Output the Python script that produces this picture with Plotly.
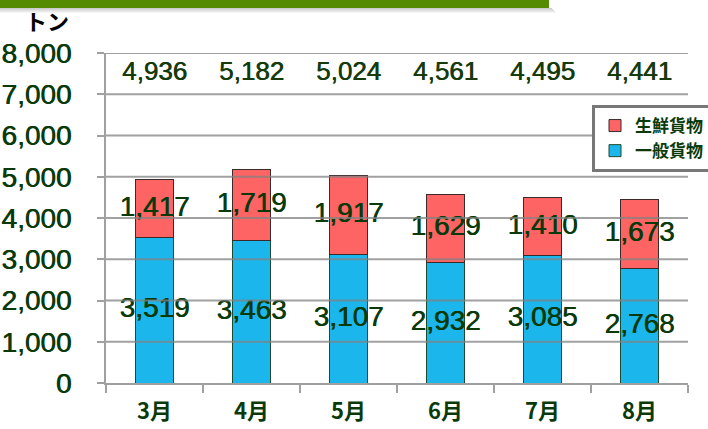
import plotly.graph_objects as go

months = ["3月", "4月", "5月", "6月", "7月", "8月"]
general = [3519, 3463, 3107, 2932, 3085, 2768]   # 一般貨物
fresh = [1417, 1719, 1917, 1629, 1410, 1673]     # 生鮮貨物
totals = [g + f for g, f in zip(general, fresh)]
y_ticks = [0, 1000, 2000, 3000, 4000, 5000, 6000, 7000, 8000]

W, H = 708, 429
L, R, T, B = 106, 20, 53, 46
PW, PH = W - L - R, H - T - B

def px(x):
    return (x - L) / PW

def py(y):
    return (H - B - y) / PH

NUM_FONT = "Liberation Sans, Arial, sans-serif"
JP_FONT = "Noto Sans CJK JP, sans-serif"
DARK_GREEN = "#0a3a0a"
THICK = "0.6px 0 0 #0a3a0a"

fig = go.Figure()
fig.add_trace(go.Bar(
    x=months, y=general, name="一般貨物",
    marker=dict(color="#1bb7ec", line=dict(color="#1e4a2e", width=1)),
    width=0.4,
))
fig.add_trace(go.Bar(
    x=months, y=fresh, name="生鮮貨物",
    marker=dict(color="#ff6464", line=dict(color="#3a2a2a", width=1)),
    width=0.4,
))

# segment labels (centred in each segment)
fig.add_trace(go.Scatter(
    x=months, y=[g / 2 for g in general], mode="text",
    text=[f"{v:,}" for v in general],
    textfont=dict(family=NUM_FONT, size=28, color=DARK_GREEN, shadow=THICK),
    showlegend=False, hoverinfo="skip",
))
fig.add_trace(go.Scatter(
    x=months, y=[g + f / 2 for g, f in zip(general, fresh)], mode="text",
    text=[f"{v:,}" for v in fresh],
    textfont=dict(family=NUM_FONT, size=28, color=DARK_GREEN, shadow=THICK),
    showlegend=False, hoverinfo="skip",
))
# totals row
fig.add_trace(go.Scatter(
    x=months, y=[7500] * len(months), mode="text",
    text=[f"{v:,}" for v in totals],
    textfont=dict(family=NUM_FONT, size=26, color="#173a0a", shadow=THICK),
    showlegend=False, hoverinfo="skip",
))

shapes = []
# gridlines drawn over bars
for t in y_ticks[1:]:
    shapes.append(dict(type="line", xref="paper", yref="y", x0=0, x1=1, y0=t, y1=t,
                       line=dict(color="rgba(130,130,130,0.75)", width=2), layer="above"))
# green header band with soft shadow
for i, a in enumerate([0.10, 0.08, 0.06, 0.04, 0.02]):
    shapes.append(dict(type="rect", xref="paper", yref="paper",
                       x0=px(0), x1=px(552 + i), y0=py(9 + i), y1=py(8 + i),
                       line=dict(width=0), fillcolor=f"rgba(0,0,0,{a*2})", layer="above"))
shapes.append(dict(type="rect", xref="paper", yref="paper",
                   x0=px(0), x1=px(549), y0=py(8), y1=py(-2),
                   line=dict(width=0), fillcolor="#558b00", layer="above"))

fig.update_layout(
    width=W, height=H,
    margin=dict(l=L, r=R, t=T, b=B, autoexpand=False),
    paper_bgcolor="white", plot_bgcolor="white",
    barmode="stack",
    shapes=shapes,
    showlegend=True,
    legend=dict(
        x=px(592), y=py(105), xanchor="left", yanchor="top",
        bgcolor="white", bordercolor="#777777", borderwidth=3,
        font=dict(family=JP_FONT, size=17, color=DARK_GREEN, weight="bold"),
        itemwidth=30, tracegroupgap=0,
    ),
    annotations=[dict(
        text="<b>トン</b>", xref="paper", yref="paper", x=px(47), y=py(20),
        xanchor="center", yanchor="middle", showarrow=False,
        font=dict(family=JP_FONT, size=22, color="black"),
    )],
    xaxis=dict(
        type="category", showgrid=False,
        showline=True, linecolor="#a0a0a0", linewidth=2,
        ticks="outside", ticklen=8, tickcolor="#a0a0a0", tickwidth=2,
        tickson="boundaries", ticklabelstandoff=8,
        tickfont=dict(family=JP_FONT, size=22, color=DARK_GREEN, weight="bold"),
    ),
    yaxis=dict(
        range=[0, 8000], tickvals=y_ticks, tickformat=",",
        showgrid=False, zeroline=False,
        showline=True, linecolor="#a0a0a0", linewidth=2,
        ticks="outside", ticklen=7, tickcolor="#a0a0a0", tickwidth=2,
        ticklabelstandoff=20,
        tickfont=dict(family=NUM_FONT, size=28, color=DARK_GREEN, shadow=THICK),
    ),
)

fig.write_html("out.html")
